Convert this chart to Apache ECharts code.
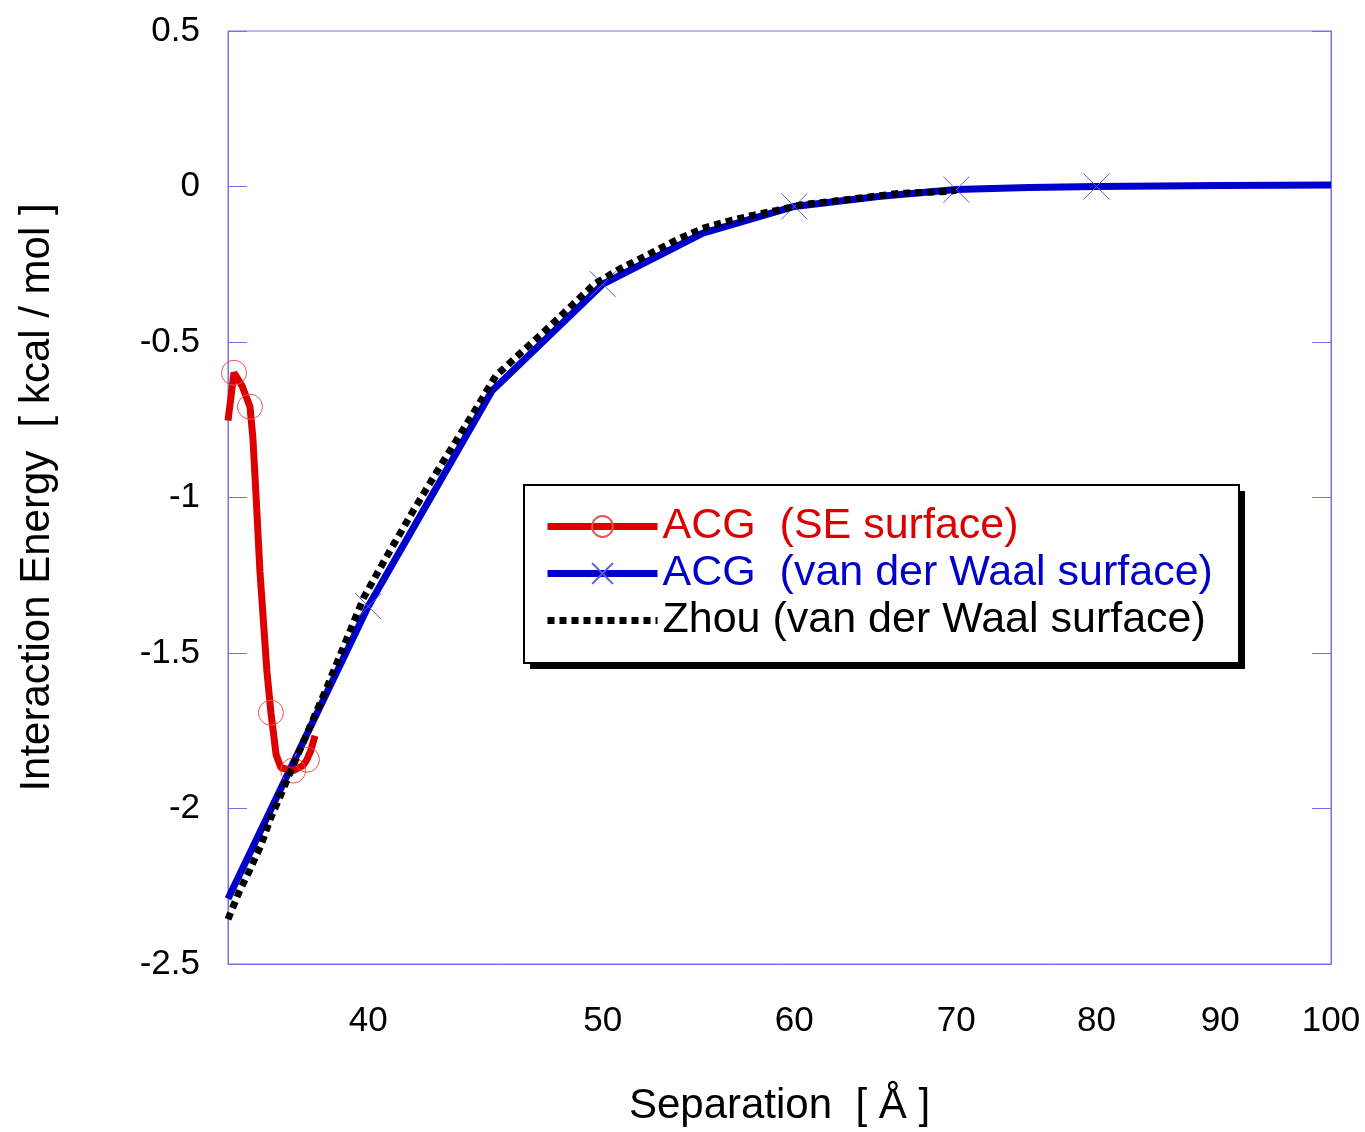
<!DOCTYPE html>
<html>
<head>
<meta charset="utf-8">
<script src="https://cdn.jsdelivr.net/npm/echarts@6/dist/echarts.min.js"></script>
<style>
  html, body { margin: 0; padding: 0; background: #fff; }
  #chart { width: 1365px; height: 1132px; }
</style>
</head>
<body>
<div id="chart"></div>
<script>
// x tick labels (log-scaled separation axis)
const xTicks = [40, 50, 60, 70, 80, 90, 100];

// ACG (SE surface)
const seX = [35.00, 35.20, 35.47, 35.74, 35.84, 35.95, 36.08, 36.32, 36.46, 36.64, 36.81, 37.24, 37.59, 37.73, 37.87, 38.02];
const seY = [-0.753, -0.599, -0.641, -0.708, -0.81, -1.00, -1.237, -1.558, -1.692, -1.827, -1.869, -1.878, -1.862, -1.843, -1.814, -1.766];
const seMarks = [35.20, 35.74, 36.46, 37.24, 37.73];

// ACG (van der Waal surface)
const vdwX = [35, 40, 45, 50, 55, 60, 65, 70, 75, 80, 85, 90, 95, 100];
const vdwY = [-2.29, -1.35, -0.657, -0.314, -0.150, -0.064, -0.032, -0.010, -0.003, 0.0, 0.002, 0.003, 0.004, 0.005];
const vdwMarks = [40, 50, 60, 70, 80];

// Zhou (van der Waal surface)
const zhouX = [35.00, 35.37, 35.74, 36.13, 36.43, 36.81, 37.16, 37.73, 38.49, 39.23, 39.83, 40.60, 41.73, 42.90, 44.14, 45.16,
  46.20, 47.22, 49.60, 50.80, 52.42, 53.69, 54.98, 56.31, 57.67, 59.00, 60.49, 62.65, 66.33, 69.42, 70.00];
const zhouY = [-2.356, -2.269, -2.196, -2.115, -2.035, -1.955, -1.878, -1.760, -1.603, -1.446, -1.321, -1.205, -1.045, -0.891, -0.737, -0.609,
  -0.538, -0.471, -0.314, -0.266, -0.212, -0.170, -0.135, -0.112, -0.093, -0.077, -0.058, -0.045, -0.022, -0.016, -0.012];

const RED = '#dd0000';
const BLUE = '#0000cc';
const FRAME = '#7272f0';
const FONT = '"Liberation Sans", Arial, sans-serif';

// x is plotted as log10(x) on a value axis
const toData = (xs, ys, marks) => xs.map((x, i) => {
  const item = { value: [Math.log10(x), ys[i]] };
  if (marks && !marks.includes(x)) item.symbol = 'none';
  return item;
});

const chart = echarts.init(document.getElementById('chart'));

const yAxisBase = {
  type: 'value',
  min: -2.5,
  max: 0.5,
  interval: 0.5,
  splitLine: { show: false },
  axisLine: { show: true, lineStyle: { color: FRAME, width: 1 } },
  axisTick: { show: true, inside: true, length: 19, lineStyle: { color: FRAME, width: 1 } },
};

const option = {
  animation: false,
  backgroundColor: '#fff',
  textStyle: { fontFamily: FONT },
  grid: {
    left: 228, right: 34, top: 31, bottom: 164,
    show: true, borderColor: FRAME, borderWidth: 1, backgroundColor: 'transparent',
  },
  // legend frame with hard drop shadow
  graphic: [
    {
      type: 'rect', left: 530, top: 491, z: 1,
      shape: { width: 715, height: 178 },
      style: { fill: '#000' },
    },
    {
      type: 'rect', left: 523, top: 484, z: 2,
      shape: { width: 715, height: 178 },
      style: { fill: '#fff', stroke: '#000', lineWidth: 2 },
    },
  ],
  legend: {
    orient: 'vertical',
    left: 544,
    top: 505,
    padding: 0,
    itemGap: 4,
    itemWidth: 110,
    itemHeight: 26,
    z: 10,
    lineStyle: { width: 'inherit' },
    textStyle: { fontSize: 43, fontFamily: FONT },
    data: [
      { name: 'ACG  (SE surface)', textStyle: { color: RED } },
      { name: 'ACG  (van der Waal surface)', textStyle: { color: BLUE } },
      { name: 'Zhou (van der Waal surface)', textStyle: { color: '#000' } },
    ],
  },
  xAxis: {
    type: 'value',
    min: Math.log10(35),
    max: 2,
    name: 'Separation  [ Å ]',
    nameLocation: 'middle',
    nameGap: 121,
    nameTextStyle: { fontSize: 42, color: '#000', fontFamily: FONT },
    splitLine: { show: false },
    axisLine: { show: true, onZero: false, lineStyle: { color: FRAME, width: 1 } },
    axisTick: { show: false },
    axisLabel: {
      customValues: xTicks.map(v => Math.log10(v)),
      formatter: v => String(Math.round(Math.pow(10, v))),
      fontSize: 35,
      color: '#000',
      margin: 40,
      fontFamily: FONT,
    },
  },
  yAxis: [
    Object.assign({}, yAxisBase, {
      position: 'left',
      name: 'Interaction Energy  [ kcal / mol ]',
      nameLocation: 'middle',
      nameGap: 170,
      nameTextStyle: { fontSize: 42, color: '#000', fontFamily: FONT },
      axisLabel: { fontSize: 35, color: '#000', margin: 28, fontFamily: FONT },
    }),
    Object.assign({}, yAxisBase, {
      position: 'right',
      axisLabel: { show: false },
    }),
  ],
  series: [
    {
      name: 'ACG  (van der Waal surface)',
      type: 'line',
      data: toData(vdwX, vdwY, vdwMarks),
      symbol: 'path://M0,0L10,10M10,0L0,10',
      symbolSize: 26,
      showSymbol: true,
      itemStyle: { color: 'transparent', borderColor: '#5b5bee', borderWidth: 1 },
      lineStyle: { color: BLUE, width: 7 },
      z: 2,
    },
    {
      name: 'ACG  (SE surface)',
      type: 'line',
      data: toData(seX, seY, seMarks),
      symbol: 'circle',
      symbolSize: 25,
      showSymbol: true,
      itemStyle: { color: 'transparent', borderColor: '#ee5050', borderWidth: 1 },
      lineStyle: { color: RED, width: 7 },
      z: 3,
    },
    {
      name: 'Zhou (van der Waal surface)',
      type: 'line',
      data: toData(zhouX, zhouY),
      symbol: 'none',
      lineStyle: { color: '#000', width: 7, type: [7, 5], cap: 'butt' },
      itemStyle: { color: 'transparent', borderColor: 'transparent' },
      z: 4,
    },
  ],
};

chart.setOption(option);
</script>
</body>
</html>
